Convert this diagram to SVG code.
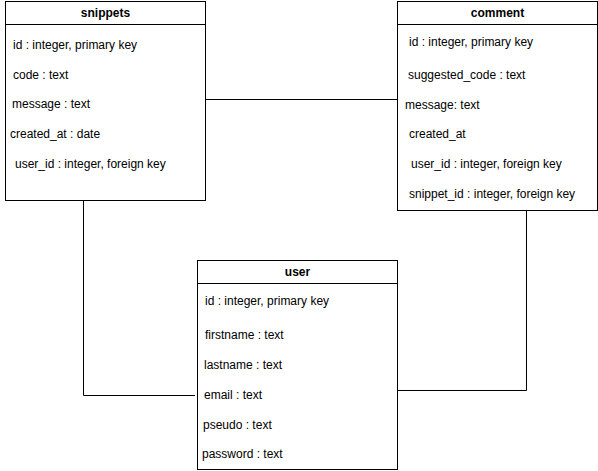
<svg xmlns="http://www.w3.org/2000/svg" width="598" height="471" viewBox="0 0 598 471">
<style>
.box{fill:#fff;stroke:#000;stroke-width:1}
.hd{font-family:"Liberation Sans",Arial,sans-serif;font-size:12px;font-weight:bold;text-anchor:middle;fill:#000}
.f{font-family:"Liberation Sans",Arial,sans-serif;font-size:12px;fill:#000}
.c{fill:none;stroke:#000;stroke-width:1}
</style>
<rect width="598" height="471" fill="#fff"/>
<g id="connectors">
<path class="c" d="M205.5,99.5 H397"/>
<path class="c" d="M83.5,200 V395.5 H195"/>
<path class="c" d="M526.5,210 V390.5 H397"/>
</g>
<g id="snippets">
<rect class="box" x="5.5" y="1.5" width="200" height="199"/>
<line class="c" x1="5.5" y1="24.5" x2="205.5" y2="24.5"/>
<text class="hd" x="105.5" y="17">snippets</text>
<text class="f" x="13" y="49">id : integer, primary key</text>
<text class="f" x="13" y="79">code : text</text>
<text class="f" x="12" y="108">message : text</text>
<text class="f" x="10" y="138">created_at : date</text>
<text class="f" x="15" y="168">user_id : integer, foreign key</text>
</g>
<g id="comment">
<rect class="box" x="397.5" y="1.5" width="200" height="209"/>
<line class="c" x1="397.5" y1="24.5" x2="597.5" y2="24.5"/>
<text class="hd" x="497.5" y="17">comment</text>
<text class="f" x="409" y="46">id : integer, primary key</text>
<text class="f" x="408" y="79">suggested_code : text</text>
<text class="f" x="405" y="109">message: text</text>
<text class="f" x="409" y="138">created_at</text>
<text class="f" x="411" y="168">user_id : integer, foreign key</text>
<text class="f" x="409" y="198">snippet_id : integer, foreign key</text>
</g>
<g id="user">
<rect class="box" x="197.5" y="260.5" width="200" height="209"/>
<line class="c" x1="197.5" y1="283.5" x2="397.5" y2="283.5"/>
<text class="hd" x="297.5" y="276">user</text>
<text class="f" x="205" y="305">id : integer, primary key</text>
<text class="f" x="205" y="339">firstname : text</text>
<text class="f" x="204" y="369">lastname : text</text>
<text class="f" x="204" y="399">email : text</text>
<text class="f" x="203" y="429">pseudo : text</text>
<text class="f" x="202" y="458">password : text</text>
</g>
</svg>
